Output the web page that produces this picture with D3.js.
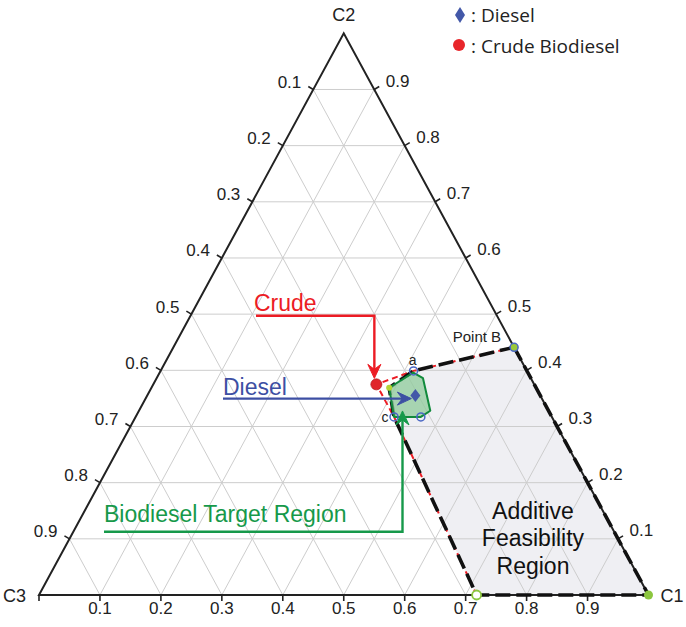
<!DOCTYPE html>
<html><head><meta charset="utf-8">
<script src="https://cdn.jsdelivr.net/npm/d3@7"></script>
<style>body{margin:0;background:#fff}svg{display:block}</style>
</head><body>
<svg id="chart" width="686" height="627"></svg>
<script>
// ---- data (ternary compositions: [C1, C2, C3]) ----
const vertexNames = ["C1", "C2", "C3"];
const tickValues = [0.1, 0.2, 0.3, 0.4, 0.5, 0.6, 0.7, 0.8, 0.9];
const tickLabels = ["0.1", "0.2", "0.3", "0.4", "0.5", "0.6", "0.7", "0.8", "0.9"];
const dieselPoint = [0.440, 0.355, 0.205];
const crudePoint = [0.366, 0.375, 0.259];
const feasibilityRegion = [[0.559, 0.441, 0.000], [1.000, 0.000, 0.000], [0.718, 0.000, 0.282],
                           [0.424, 0.317, 0.259], [0.390, 0.369, 0.241], [0.415, 0.399, 0.186]];
const crudeBoundary = [[0.718, 0.000, 0.282], [0.424, 0.317, 0.259], [0.366, 0.375, 0.259],
                       [0.415, 0.399, 0.186], [0.559, 0.441, 0.000]];
const targetRegion = [[0.390, 0.369, 0.241], [0.416, 0.396, 0.188], [0.437, 0.386, 0.177],
                      [0.478, 0.328, 0.194], [0.468, 0.317, 0.215], [0.424, 0.317, 0.259]];
const ringPoints = [[0.559, 0.441, 0.000], [0.415, 0.399, 0.186], [0.424, 0.317, 0.259], [0.468, 0.317, 0.215]];
const ringLabels = ["Point B", "a", "c", ""];
const greenPoints = [[1.000, 0.000, 0.000], [0.718, 0.000, 0.282], [0.390, 0.369, 0.241]];
const regionLabel = ["Additive", "Feasibility", "Region"];
const legendNames = [": Diesel", ": Crude Biodiesel"];

// ---- scales ----
const svg = d3.select("#chart");
const xs = d3.scaleLinear().domain([0, 1]).range([39, 648.5]);
const ys = d3.scaleLinear().domain([0, 1]).range([595, 33.3]);
const P = c => [xs(c[0] + c[1] / 2), ys(c[1])];
const line = d3.line();
const closed = pts => line(pts.map(P)) + "Z";

const RED = "#ec1c24", BLUE = "#3d4fa3", GREEN = "#16994a", GRID = "#cdcdcd";
const AX = "Liberation Sans, Arial, sans-serif";

// feasibility region fill
svg.append("path").attr("d", closed(feasibilityRegion)).attr("fill", "#efeff3");

// grid
const g = svg.append("g").attr("stroke", GRID).attr("stroke-width", 1).attr("fill", "none");
tickValues.forEach(v => {
  g.append("path").attr("d", line([P([0, v, 1 - v]), P([1 - v, v, 0])]));      // C2 const
  g.append("path").attr("d", line([P([v, 0, 1 - v]), P([v, 1 - v, 0])]));      // C1 const
  g.append("path").attr("d", line([P([1 - v, 0, v]), P([0, 1 - v, v])]));      // C3 const
});

// triangle frame
svg.append("path").attr("d", closed([[1, 0, 0], [0, 1, 0], [0, 0, 1]]))
  .attr("fill", "none").attr("stroke", "#222").attr("stroke-width", 2).attr("stroke-linejoin", "miter");

// ticks + labels
const tk = svg.append("g").attr("stroke", "#222").attr("stroke-width", 1.6);
const lab = svg.append("g").attr("font-family", AX).attr("font-size", 17).attr("fill", "#222");
[0].concat(tickValues).forEach(v => {
  const b = P([v, 0, 1 - v]);
  tk.append("line").attr("x1", b[0]).attr("y1", b[1]).attr("x2", b[0]).attr("y2", b[1] + 6);
});
tickValues.forEach((v, i) => {
  const b = P([v, 0, 1 - v]);
  lab.append("text").attr("x", b[0]).attr("y", 614).attr("text-anchor", "middle").text(tickLabels[i]);
  const l = P([0, 1 - v, v]);
  tk.append("line").attr("x1", l[0]).attr("y1", l[1]).attr("x2", l[0] - 5).attr("y2", l[1] - 3);
  lab.append("text").attr("x", l[0] - 12).attr("y", l[1] - 1.5).attr("text-anchor", "end").text(tickLabels[i]);
  const r = P([1 - v, v, 0]);
  tk.append("line").attr("x1", r[0]).attr("y1", r[1]).attr("x2", r[0] + 5).attr("y2", r[1] - 3);
  lab.append("text").attr("x", r[0] + 11.5).attr("y", r[1] - 2.5).attr("text-anchor", "start").text(tickLabels[i]);
});

// vertex labels
const vl = svg.append("g").attr("font-family", AX).attr("font-size", 18).attr("fill", "#222");
const c1p = P([1, 0, 0]), c2p = P([0, 1, 0]), c3p = P([0, 0, 1]);
vl.append("text").attr("x", c1p[0] + 12).attr("y", c1p[1] + 7).text(vertexNames[0]);
vl.append("text").attr("x", c2p[0]).attr("y", c2p[1] - 12).attr("text-anchor", "middle").text(vertexNames[1]);
vl.append("text").attr("x", c3p[0] - 13).attr("y", c3p[1] + 7).attr("text-anchor", "end").text(vertexNames[2]);

// crude boundary (red dashed)
svg.append("path").attr("d", line(crudeBoundary.map(P))).attr("fill", "none")
  .attr("stroke", RED).attr("stroke-width", 2).attr("stroke-dasharray", "6,4");
// feasibility boundary (black dashed)
svg.append("path").attr("d", closed(feasibilityRegion)).attr("fill", "none")
  .attr("stroke", "#111").attr("stroke-width", 3.6).attr("stroke-dasharray", "15,6");

// target region
svg.append("path").attr("d", closed(targetRegion)).attr("fill", "#8fcb9b").attr("fill-opacity", 0.75)
  .attr("stroke", "#118a3c").attr("stroke-width", 2).attr("stroke-linejoin", "round");

// markers
greenPoints.forEach((c, i) => {
  const p = P(c);
  const s = svg.append("circle").attr("cx", p[0]).attr("cy", p[1]);
  if (i === 0) s.attr("r", 4.5).attr("fill", "#8cc63f");
  else if (i === 1) s.attr("r", 4.5).attr("fill", "#fff").attr("stroke", "#8cc63f").attr("stroke-width", 1.8);
  else s.attr("r", 3).attr("fill", "#b5d334");
});
ringPoints.forEach((c, i) => {
  const p = P(c);
  svg.append("circle").attr("cx", p[0]).attr("cy", p[1]).attr("r", 4)
    .attr("fill", i === 0 ? "#9cc93b" : "none").attr("stroke", "#4a67c4").attr("stroke-width", 1.5);
});
const rl = svg.append("g").attr("font-family", AX).attr("fill", "#222");
{
  const b = P(ringPoints[0]), a = P(ringPoints[1]), c = P(ringPoints[2]);
  rl.append("text").attr("x", b[0] - 13).attr("y", b[1] - 5).attr("text-anchor", "end").attr("font-size", 15).text(ringLabels[0]);
  rl.append("text").attr("x", a[0] - 1).attr("y", a[1] - 6).attr("text-anchor", "middle").attr("font-size", 14).text(ringLabels[1]);
  rl.append("text").attr("x", c[0] - 9).attr("y", c[1] + 5).attr("text-anchor", "middle").attr("font-size", 14).text(ringLabels[2]);
}

// crude & diesel points
const cp = P(crudePoint), dp = P(dieselPoint);
svg.append("circle").attr("cx", cp[0]).attr("cy", cp[1]).attr("r", 5.5).attr("fill", "#e0262b").attr("stroke", "#b81c20").attr("stroke-width", 0.8);
const diamond = (cx, cy, w, h) => `M${cx},${cy - h}L${cx + w},${cy}L${cx},${cy + h}L${cx - w},${cy}Z`;
svg.append("path").attr("d", diamond(dp[0], dp[1], 5, 6.5)).attr("fill", "#4358a8");

// arrows
function arrowHead(tip, dir, color) {
  const [dx, dy] = dir, px = -dy, py = dx;
  const L = 14, Wd = 6.5, N = 9;
  const pts = [tip, [tip[0] - dx * L + px * Wd, tip[1] - dy * L + py * Wd],
    [tip[0] - dx * N, tip[1] - dy * N], [tip[0] - dx * L - px * Wd, tip[1] - dy * L - py * Wd]];
  svg.append("path").attr("d", line(pts) + "Z").attr("fill", color).attr("stroke", color).attr("stroke-width", 1).attr("stroke-linejoin", "miter");
}
const ann = svg.append("g").attr("fill", "none").attr("stroke-width", 2.4);
// Crude
const crTip = [cp[0] - 2, cp[1] - 6];
ann.append("path").attr("d", line([[256, 315.7], [crTip[0], 315.7], [crTip[0], crTip[1] - 8]])).attr("stroke", RED);
arrowHead(crTip, [0, 1], RED);
// Diesel
const dsTip = [dp[0] - 4, dp[1] + 3];
ann.append("path").attr("d", line([[223, dsTip[1]], [dsTip[0] - 8, dsTip[1]]])).attr("stroke", BLUE);
arrowHead(dsTip, [1, 0], BLUE);
// Biodiesel target
const tgTip = [402.5, P(targetRegion[5])[1] - 6];
ann.append("path").attr("d", line([[104, 531.7], [tgTip[0], 531.7], [tgTip[0], tgTip[1] + 8]])).attr("stroke", GREEN);
arrowHead(tgTip, [0, -1], GREEN);

const at = svg.append("g").attr("font-family", AX).attr("font-size", 23);
at.append("text").attr("x", 254).attr("y", 310.5).attr("fill", RED).text("Crude");
at.append("text").attr("x", 223).attr("y", 394.5).attr("fill", BLUE).text("Diesel");
at.append("text").attr("x", 104).attr("y", 522.3).attr("fill", GREEN).text("Biodiesel Target Region");
regionLabel.forEach((t, i) => {
  at.append("text").attr("x", 533).attr("y", 518.5 + i * 27.5).attr("text-anchor", "middle").attr("fill", "#111").text(t);
});

// legend
const lg = svg.append("g").attr("font-family", "Open Sans, sans-serif").attr("font-size", 19).attr("fill", "#222");
lg.append("path").attr("d", diamond(460, 15, 5, 8)).attr("fill", "#4358a8");
lg.append("text").attr("x", 471).attr("y", 21.5).text(legendNames[0]);
lg.append("circle").attr("cx", 459).attr("cy", 45).attr("r", 6).attr("fill", "#e8262b");
lg.append("text").attr("x", 471).attr("y", 52.5).text(legendNames[1]);
</script>
</body></html>
